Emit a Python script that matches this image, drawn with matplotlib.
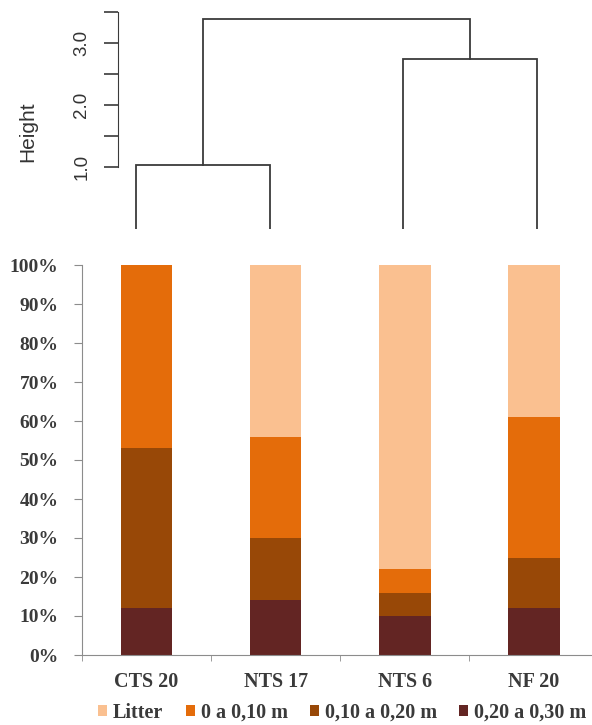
import matplotlib.pyplot as plt
import numpy as np

# data
sites = ['CTS 20', 'NTS 17', 'NTS 6', 'NF 20']
layers = ['Litter', '0 a 0,10 m', '0,10 a 0,20 m', '0,20 a 0,30 m']
litter = [0, 44, 78, 39]
l_0_10 = [47, 26, 6, 36]
l_10_20 = [41, 16, 6, 13]
l_20_30 = [12, 14, 10, 12]
colors = ['#FAC090', '#E46C0A', '#984807', '#632523']

# dendrogram: (left, right, height); leaves are 1..4, clusters 5..
merges = [(1, 2, 1.03), (3, 4, 2.74), (5, 6, 3.39)]

W, H = 592, 725
fig = plt.figure(figsize=(W / 100, H / 100), dpi=100)

# ---- dendrogram
axd = fig.add_axes([118 / W, (H - 229) / H, (560 - 118) / W, 217 / H])
pos = {i: float(i) for i in range(1, 5)}
hgt = {i: 0.0 for i in range(1, 5)}
nid = 5
for a, b, h in merges:
    axd.plot([pos[a], pos[a], pos[b], pos[b]], [hgt[a], h, h, hgt[b]],
             color='#3a3a3a', lw=1.3, solid_joinstyle='miter')
    pos[nid] = (pos[a] + pos[b]) / 2
    hgt[nid] = h
    nid += 1
axd.set_xlim(1 - 18 / 133.7, 4 + 23 / 133.7)
axd.set_ylim(0, 3.5)
for s in ['top', 'right', 'bottom']:
    axd.spines[s].set_visible(False)
axd.spines['left'].set_bounds(1.0, 3.5)
axd.spines['left'].set_color('#3a3a3a')
axd.set_xticks([])
axd.set_yticks(np.arange(1.0, 3.51, 0.5))
axd.set_yticklabels(['1.0', '', '2.0', '', '3.0', ''], rotation=90, va='center',
                    family='Liberation Sans', fontsize=13.5, color='#333333')
axd.tick_params(axis='y', length=10, width=1.2, color='#3a3a3a', pad=10)
axd.set_ylabel('Height', family='Liberation Sans', fontsize=15, color='#333333')
axd.yaxis.set_label_coords(-81 / 442, 0.447)
axd.patch.set_alpha(0)

# ---- stacked bars
ax = fig.add_axes([82 / W, (H - 655) / H, (592 - 82) / W, 390 / H])
x = np.arange(len(sites))
stack = [l_20_30, l_10_20, l_0_10, litter]
names = layers[::-1]
cols = colors[::-1]
bottom = np.zeros(len(sites))
bars = {}
for vals, name, c in zip(stack, names, cols):
    bars[name] = ax.bar(x, vals, width=0.4, bottom=bottom, color=c, label=name)
    bottom += np.array(vals)

ax.set_xlim(-0.5, 3.45)
ax.set_ylim(0, 100)
ax.set_yticks(np.arange(0, 101, 10))
ax.set_yticklabels([f'{v}%' for v in range(0, 101, 10)])
ax.set_xticks(x)
ax.set_xticklabels(sites)
ax.set_xticks(np.arange(-0.5, 3.5, 1), minor=True)
for s in ['top', 'right']:
    ax.spines[s].set_visible(False)
for s in ['left', 'bottom']:
    ax.spines[s].set_color('#8c8c8c')
ax.tick_params(axis='y', length=6, color='#8c8c8c', pad=11)
ax.tick_params(axis='x', which='major', length=0, pad=12)
ax.tick_params(axis='x', which='minor', length=4, color='#8c8c8c')
for lab in ax.get_yticklabels() + ax.get_xticklabels():
    lab.set_family('Liberation Serif')
    lab.set_fontweight('bold')
    lab.set_color('#3a3a3a')
for lab in ax.get_yticklabels():
    lab.set_fontsize(14)
for lab in ax.get_xticklabels():
    lab.set_fontsize(14.5)

handles = [bars[n] for n in layers]
fig.legend(handles, layers, loc='center left', bbox_to_anchor=(98 / W, (H - 713) / H), ncol=4,
           frameon=False, handlelength=0.45, handleheight=0.45, handletextpad=0.3,
           columnspacing=1.1, borderaxespad=0, borderpad=0,
           prop={'family': 'Liberation Serif', 'weight': 'bold', 'size': 14.5},
           labelcolor='#3a3a3a')

fig.savefig('out.png', dpi=100)
